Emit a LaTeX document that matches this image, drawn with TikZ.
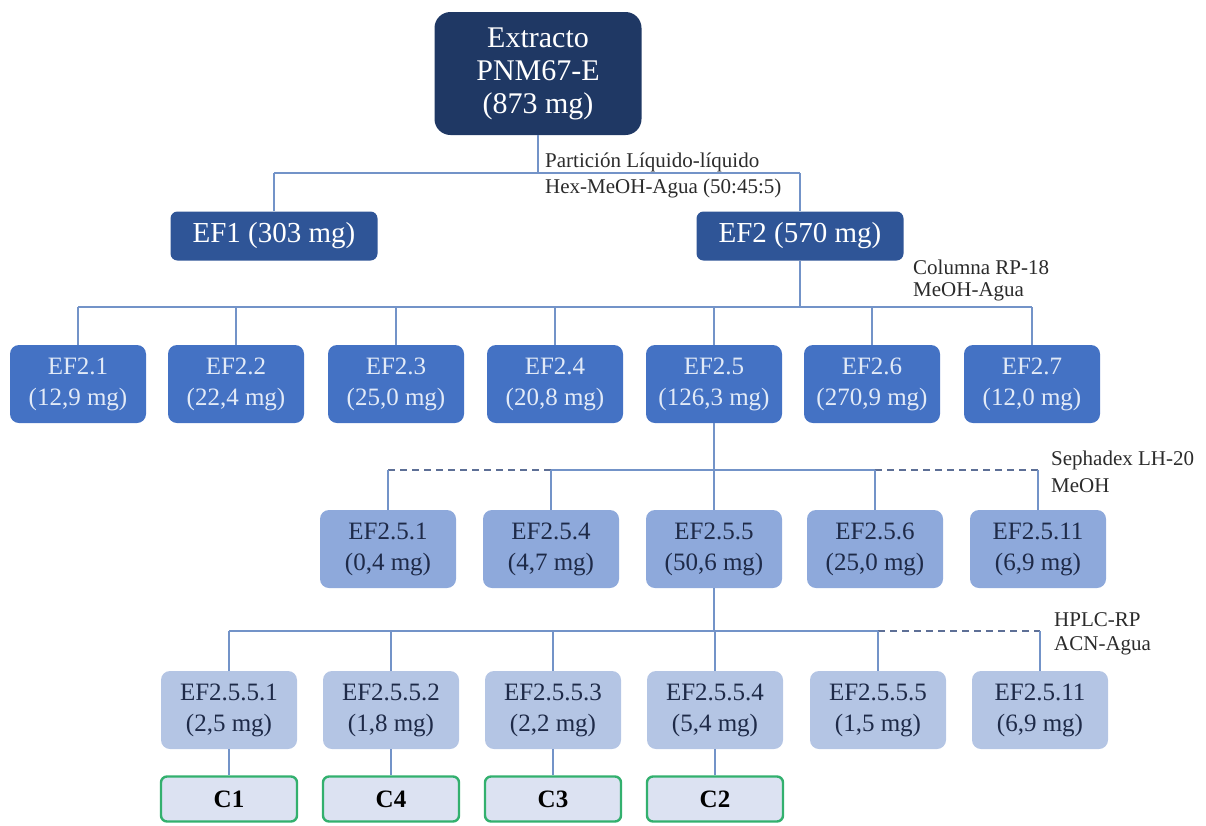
\documentclass[tikz,border=0pt]{standalone}
\usepackage{fontspec}
\setmainfont{Liberation Serif}
\begin{document}
\begin{tikzpicture}[x=1pt,y=-1pt,
  box/.style={rounded corners=9pt, align=center, inner sep=2pt, minimum width=136pt, minimum height=78pt, font=\fontsize{25}{31}\selectfont},
  lvlzero/.style={box, fill=navy, text=white, rounded corners=16pt, minimum width=207pt, minimum height=123pt, font=\fontsize{30}{33}\selectfont},
  lvlone/.style={box, fill=blueone, text=white, rounded corners=7pt, minimum width=207pt, minimum height=49pt, font=\fontsize{29}{30}\selectfont},
  lvltwo/.style={box, fill=bluetwo, text=lighttext},
  lvlthree/.style={box, fill=bluethree, text=darktext},
  lvlfour/.style={box, fill=bluefour, text=darktext},
  cbox/.style={rounded corners=6pt, align=center, minimum width=136pt, minimum height=45pt, fill=lavender, draw=greenc, line width=2.4pt, font=\fontsize{25}{28}\selectfont\bfseries, text=black},
  conn/.style={draw=linec, line width=1.4pt},
  dconn/.style={draw=dashc, line width=1.4pt, dash pattern=on 7pt off 5pt},
  lbl/.style={font=\fontsize{21}{25}\selectfont, text=labelc, align=left, anchor=west, inner sep=0pt}
]
\definecolor{navy}{HTML}{1F3864}
\definecolor{blueone}{HTML}{2F5597}
\definecolor{bluetwo}{HTML}{4472C4}
\definecolor{bluethree}{HTML}{8EA9DB}
\definecolor{bluefour}{HTML}{B4C5E4}
\definecolor{lavender}{HTML}{DCE2F2}
\definecolor{greenc}{HTML}{33B06E}
\definecolor{lighttext}{HTML}{E2EAF7}
\definecolor{darktext}{HTML}{1E2A48}
\definecolor{linec}{HTML}{7393C8}
\definecolor{dashc}{HTML}{5D6F96}
\definecolor{labelc}{HTML}{2B2B2B}

\useasboundingbox (0,0) rectangle (1206,825);

% level 0
\node[lvlzero] (top) at (538,73.5) {Extracto\\PNM67-E\\(873 mg)};
% level 1
\node[lvlone] (ef1) at (274,236) {EF1 (303 mg)};
\node[lvlone] (ef2) at (800,236) {EF2 (570 mg)};
% level 2
\node[lvltwo] (e21) at (78,384)  {EF2.1\\(12,9 mg)};
\node[lvltwo] (e22) at (236,384) {EF2.2\\(22,4 mg)};
\node[lvltwo] (e23) at (396,384) {EF2.3\\(25,0 mg)};
\node[lvltwo] (e24) at (555,384) {EF2.4\\(20,8 mg)};
\node[lvltwo] (e25) at (714,384) {EF2.5\\(126,3 mg)};
\node[lvltwo] (e26) at (872,384) {EF2.6\\(270,9 mg)};
\node[lvltwo] (e27) at (1032,384) {EF2.7\\(12,0 mg)};
% level 3
\node[lvlthree] (f1) at (388,549)  {EF2.5.1\\(0,4 mg)};
\node[lvlthree] (f4) at (551,549)  {EF2.5.4\\(4,7 mg)};
\node[lvlthree] (f5) at (714,549)  {EF2.5.5\\(50,6 mg)};
\node[lvlthree] (f6) at (875,549)  {EF2.5.6\\(25,0 mg)};
\node[lvlthree] (f11) at (1038,549) {EF2.5.11\\(6,9 mg)};
% level 4
\node[lvlfour] (g1) at (229,710) {EF2.5.5.1\\(2,5 mg)};
\node[lvlfour] (g2) at (391,710) {EF2.5.5.2\\(1,8 mg)};
\node[lvlfour] (g3) at (553,710) {EF2.5.5.3\\(2,2 mg)};
\node[lvlfour] (g4) at (715,710) {EF2.5.5.4\\(5,4 mg)};
\node[lvlfour] (g5) at (878,710) {EF2.5.5.5\\(1,5 mg)};
\node[lvlfour] (g11) at (1040,710) {EF2.5.11\\(6,9 mg)};
% compounds
\node[cbox] (c1) at (229,799) {C1};
\node[cbox] (c4) at (391,799) {C4};
\node[cbox] (c3) at (553,799) {C3};
\node[cbox] (c2) at (715,799) {C2};

% bus coordinates
\coordinate (b1) at (0,173);
\coordinate (b2) at (0,307);
\coordinate (b3) at (0,470);
\coordinate (b4) at (0,631);

% level 0 -> 1
\draw[conn] (top.south) -- (top.south |- b1);
\draw[conn] (ef1.north |- b1) -- (ef2.north |- b1);
\foreach \n in {ef1,ef2} \draw[conn] (\n.north) -- (\n.north |- b1);

% level 1 -> 2
\draw[conn] (ef2.south) -- (ef2.south |- b2);
\draw[conn] (e21.north |- b2) -- (e27.north |- b2);
\foreach \n in {e21,e22,e23,e24,e25,e26,e27} \draw[conn] (\n.north) -- (\n.north |- b2);

% level 2 -> 3
\draw[conn] (e25.south) -- (e25.south |- b3);
\draw[dconn] (f1.north |- b3) -- (f4.north |- b3);
\draw[conn] (f4.north |- b3) -- (f6.north |- b3);
\draw[dconn] (f6.north |- b3) -- (f11.north |- b3);
\foreach \n in {f1,f4,f5,f6,f11} \draw[conn] (\n.north) -- (\n.north |- b3);

% level 3 -> 4
\draw[conn] (f5.south) -- (f5.south |- b4);
\draw[conn] (g1.north |- b4) -- (g5.north |- b4);
\draw[dconn] (g5.north |- b4) -- (g11.north |- b4);
\foreach \n in {g1,g2,g3,g4,g5,g11} \draw[conn] (\n.north) -- (\n.north |- b4);

% level 4 -> compounds
\draw[conn] (g1.south) -- (c1.north);
\draw[conn] (g2.south) -- (c4.north);
\draw[conn] (g3.south) -- (c3.north);
\draw[conn] (g4.south) -- (c2.north);

% labels
\node[lbl] (l1a) at (545,162) {Partición Líquido-líquido};
\node[lbl] (l1b) at (545,188) {Hex-MeOH-Agua (50:45:5)};
\node[lbl] (l2a) at (913,267) {Columna RP-18};
\node[lbl] (l2b) at (913,292) {MeOH-Agua};
\node[lbl] (l3a) at (1051,460) {Sephadex LH-20};
\node[lbl] (l3b) at (1051,486) {MeOH};
\node[lbl] (l4a) at (1054,620) {HPLC-RP};
\node[lbl] (l4b) at (1054,646) {ACN-Agua};
\end{tikzpicture}
\end{document}
